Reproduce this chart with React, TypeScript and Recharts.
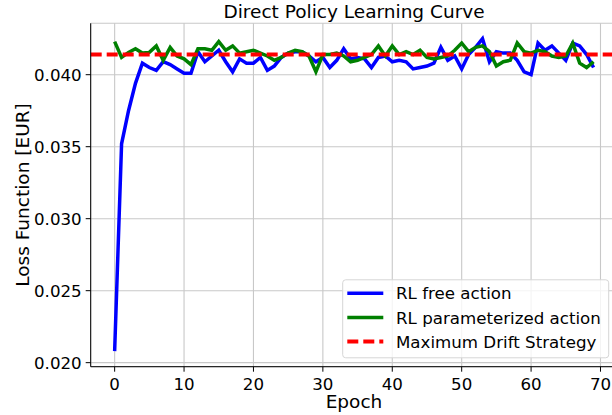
import React from 'react';
import { LineChart, Line, XAxis, YAxis, CartesianGrid, ReferenceLine } from 'recharts';

const TITLE = 'Direct Policy Learning Curve';
const X_LABEL = 'Epoch';
const Y_LABEL = 'Loss Function [EUR]';

const xTicks = [0, 10, 20, 30, 40, 50, 60, 70];
const yTicks = [0.02, 0.025, 0.03, 0.035, 0.04];

const rlFree = [
  0.0208, 0.0352, 0.0375, 0.0394, 0.0408, 0.0405, 0.0403, 0.0409, 0.0407, 0.0404,
  0.0401, 0.0401, 0.0416, 0.0409, 0.0413, 0.0417, 0.0409, 0.0402, 0.0411, 0.0408,
  0.0408, 0.0412, 0.0403, 0.0406, 0.0412, 0.0415, 0.0416, 0.0416, 0.0413, 0.0409,
  0.0412, 0.0405, 0.0410, 0.0418, 0.0411, 0.0412, 0.0411, 0.0405, 0.0412, 0.0413,
  0.0409, 0.0410, 0.0409, 0.0404, 0.0405, 0.0406, 0.0408, 0.0419, 0.0410, 0.0413,
  0.0404, 0.0414, 0.0419, 0.0425, 0.0409, 0.0416, 0.0415, 0.0415, 0.0410, 0.0402,
  0.0400, 0.0422, 0.0417, 0.0420, 0.0415, 0.0410, 0.0422, 0.0420, 0.0414, 0.0405,
];

const rlParam = [
  0.0423, 0.0412, 0.04155, 0.0418, 0.0415, 0.04155, 0.0420, 0.0410, 0.0419, 0.0413,
  0.0411, 0.0407, 0.0418, 0.0418, 0.0417, 0.0423, 0.0417, 0.0420, 0.0415, 0.0416,
  0.0417, 0.0415, 0.0413, 0.0410, 0.0412, 0.0415, 0.0417, 0.0416, 0.0413, 0.0402,
  0.0414, 0.0414, 0.0415, 0.0413, 0.0409, 0.0410, 0.0412, 0.0414, 0.0420, 0.0413,
  0.0420, 0.0414, 0.0416, 0.0414, 0.0417, 0.0412, 0.0411, 0.0412, 0.0413, 0.0417,
  0.0422, 0.0416, 0.0419, 0.0420, 0.0416, 0.0406, 0.0409, 0.0410, 0.0422, 0.0416,
  0.0415, 0.0417, 0.0416, 0.0413, 0.0412, 0.0413, 0.0422, 0.0408, 0.0405, 0.0409,
];

const maxDrift = 0.04141;

const seriesNames = ['RL free action', 'RL parameterized action', 'Maximum Drift Strategy'];
const seriesColors = ['#0000ff', '#008000', '#ff0000'];

const rows = rlFree.map((v, i) => ({ epoch: i, free: v, param: rlParam[i] }));

const FONT = 'DejaVu Sans, sans-serif';

export default function App() {
  return (
    <div style={{ position: 'fixed', left: 0, top: 0, width: 612, height: 415, overflow: 'hidden', background: '#fff' }}>
      <LineChart width={630} height={415} data={rows} margin={{ top: 23.3, right: 12.5, bottom: 0, left: 0 }}>
        <CartesianGrid stroke="#c8c8c8" strokeWidth={1.1} />
        <XAxis
          dataKey="epoch"
          type="number"
          domain={[-3.45, 72.45]}
          ticks={xTicks}
          interval={0}
          allowDataOverflow
          height={48.3}
          tickSize={5}
          tickMargin={6}
          stroke="#000"
          tick={{ fontSize: 16.67, fill: '#000', fontFamily: FONT }}
          label={(p: any) => (
            <text x={354} y={408} textAnchor="middle" fontSize={18.5} fontFamily={FONT} fill="#000">
              {X_LABEL}
            </text>
          )}
        />
        <XAxis
          xAxisId="top"
          orientation="top"
          dataKey="epoch"
          type="number"
          domain={[-3.45, 72.45]}
          height={0}
          tick={false}
          tickLine={false}
          stroke="#000"
        />
        <YAxis
          type="number"
          domain={[0.01972, 0.04357]}
          ticks={yTicks}
          interval={0}
          allowDataOverflow
          width={90.7}
          tickSize={5}
          tickMargin={4}
          stroke="#000"
          tickFormatter={(v: number) => v.toFixed(3)}
          tick={{ fontSize: 16.67, fill: '#000', fontFamily: FONT }}
          label={(p: any) => (
            <text
              x={29}
              y={195}
              transform="rotate(-90, 29, 195)"
              textAnchor="middle"
              fontSize={18.5}
              fontFamily={FONT}
              fill="#000"
            >
              {Y_LABEL}
            </text>
          )}
        />
        <YAxis yAxisId="right" orientation="right" width={0} tick={false} tickLine={false} stroke="#000" />
        <Line type="linear" dataKey="free" stroke={seriesColors[0]} strokeWidth={3.5} dot={false} isAnimationActive={false} />
        <Line type="linear" dataKey="param" stroke={seriesColors[1]} strokeWidth={3.5} dot={false} isAnimationActive={false} />
        <ReferenceLine y={maxDrift} stroke={seriesColors[2]} strokeWidth={4} strokeDasharray="11 5" />
      </LineChart>
      <svg width={612} height={24} style={{ position: 'absolute', left: 0, top: 0 }}>
        <text x={354} y={17.5} textAnchor="middle" fontSize={18.5} fontFamily={FONT} fill="#000">
          {TITLE}
        </text>
      </svg>
      <svg width={270} height={82} style={{ position: 'absolute', left: 342, top: 278.5 }}>
        <rect x={0.7} y={0.8} width={266} height={78} rx={3} ry={3} fill="rgba(255,255,255,0.8)" stroke="#d6d6d6" strokeWidth={1} />
        {seriesNames.map((name, i) => {
          const cy = 14.2 + i * 24.2;
          return (
            <g key={name}>
              <line
                x1={5.3}
                x2={41.3}
                y1={cy}
                y2={cy}
                stroke={seriesColors[i]}
                strokeWidth={i === 2 ? 4 : 3.5}
                strokeDasharray={i === 2 ? '11 5' : undefined}
              />
              <text x={54} y={cy + 6.1} fontSize={16.67} fontFamily={FONT} fill="#000">
                {name}
              </text>
            </g>
          );
        })}
      </svg>
    </div>
  );
}
